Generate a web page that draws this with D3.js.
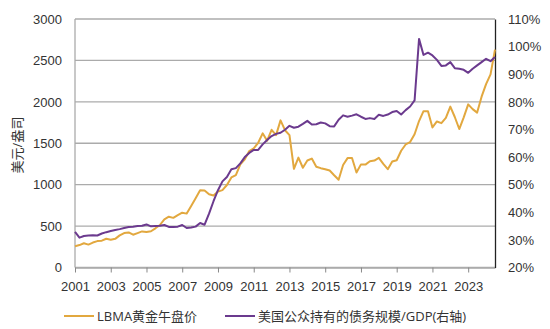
<!DOCTYPE html>
<html><head><meta charset="utf-8">
<script src="https://cdn.jsdelivr.net/npm/d3@7"></script>
<style>body{margin:0;background:#fff;}svg{display:block;font-family:"Open Sans","Noto Sans CJK SC",sans-serif;}</style>
</head><body><svg id="c" width="550" height="329"></svg>
<script>
const startYear = 2001;
const quarterCount = 95; // 2001Q1 .. 2024Q3
const goldPrice = [257.7,270.6,293.1,276.5, 301.4,318.5,323.7,347.2, 334.9,346.0,388.0,416.3,
 423.7,395.8,415.7,435.6, 427.5,437.1,473.3,513.0, 582.0,613.5,599.3,632.0, 661.8,650.5,743.0,836.5,
 933.5,930.3,884.5,869.8, 916.5,934.5,995.8,1087.5, 1115.5,1244.0,1307.0,1405.5, 1439.0,1505.5,1620.0,1531.0,
 1662.5,1598.5,1776.0,1657.5, 1598.3,1192.0,1326.5,1204.5, 1291.8,1315.0,1216.5,1199.3, 1187.0,1171.0,1114.0,1060.0,
 1237.0,1320.8,1322.5,1145.9, 1244.9,1242.3,1283.1,1291.0, 1323.9,1250.5,1187.3,1279.0, 1295.4,1409.0,1485.3,1514.8,
 1608.9,1768.1,1886.9,1887.6, 1691.1,1763.2,1742.8,1805.9, 1942.2,1817.0,1671.8,1812.4, 1969.0,1912.3,1870.1,2062.4,
 2214.4,2330.9,2630.0];
const debtToGdp = [32.9,30.8,31.4,31.6, 31.7,31.6,32.3,32.8, 33.2,33.6,33.9,34.3, 34.7,34.8,35.0,35.1,
 35.6,34.9,35.0,35.1, 35.4,34.7,34.7,34.8, 35.4,34.3,34.5,34.8, 36.1,35.5,39.5,44.0,
 48.0,51.2,52.8,55.6, 56.0,57.7,60.0,61.5, 62.6,62.6,64.6,66.2, 67.6,68.4,68.8,69.9,
 71.3,70.6,71.0,72.0, 73.1,71.8,71.9,72.5, 72.2,71.2,71.1,73.5, 75.1,74.6,75.0,75.5,
 74.6,73.8,74.1,73.8, 75.3,74.9,75.4,76.3, 76.7,75.4,77.0,78.3, 80.5,102.8,97.0,97.8,
 96.8,95.2,93.0,93.2, 94.4,92.2,92.0,91.6, 90.5,92.0,93.2,94.4, 95.6,94.7,96.2];
const leftTicks = [0,500,1000,1500,2000,2500,3000];
const rightTicks = [20,30,40,50,60,70,80,90,100,110];
const yearLabels = ["2001","2003","2005","2007","2009","2011","2013","2015","2017","2019","2021","2023"];
const seriesNames = ["LBMA黄金午盘价","美国公众持有的债务规模/GDP(右轴)"];
const yTitle = "美元/盎司";

const quarters = d3.range(quarterCount).map(i => (startYear + Math.floor(i/4)) + "Q" + (i%4+1));
const colors = ["#E2A83F","#6B3A8E"];
const L=75, R=495, T=19, B=267.5;
const svg = d3.select("#c");
const x = d3.scalePoint().domain(quarters).range([L,R]);
const yL = d3.scaleLinear().domain([0,3000]).range([B,T]);
const yR = d3.scaleLinear().domain([20,110]).range([B,T]);

svg.append("g").selectAll("line").data(leftTicks).join("line")
  .attr("x1",L).attr("x2",R).attr("y1",d=>yL(d)).attr("y2",d=>yL(d))
  .attr("stroke","#ababab").attr("stroke-width",1.3);
svg.append("line").attr("x1",L).attr("x2",L).attr("y1",T).attr("y2",B).attr("stroke","#ababab").attr("stroke-width",1.3);
const xAxis = d3.axisBottom(x).tickValues(yearLabels.map(y=>y+"Q1")).tickSize(5).tickSizeOuter(0).tickFormat(d=>d.slice(0,4)).tickPadding(9);
const gx = svg.append("g").attr("transform",`translate(0,${B})`).call(xAxis);
gx.select(".domain").attr("stroke","#ababab").attr("stroke-width",1.3);
gx.selectAll(".tick line").attr("stroke","#888");
gx.selectAll("text").attr("font-size",13).attr("fill","#333");
const gl = svg.append("g").attr("transform",`translate(${L},0)`).call(d3.axisLeft(yL).tickValues(leftTicks).tickSize(0).tickPadding(13).tickFormat(d3.format("d")));
gl.select(".domain").remove();
gl.selectAll("text").attr("font-size",13).attr("fill","#333");
const gr = svg.append("g").attr("transform",`translate(${R},0)`).call(d3.axisRight(yR).tickValues(rightTicks).tickSize(0).tickPadding(13).tickFormat(d=>d+"%"));
gr.select(".domain").attr("stroke","#222").attr("stroke-width",1.3);
gr.selectAll("text").attr("font-size",13).attr("fill","#333");

svg.append("path").datum(goldPrice).attr("fill","none").attr("stroke",colors[0]).attr("stroke-width",2)
  .attr("stroke-linejoin","round")
  .attr("d", d3.line().x((d,i)=>x(quarters[i])).y(d=>yL(d)));
svg.append("path").datum(debtToGdp).attr("fill","none").attr("stroke",colors[1]).attr("stroke-width",2)
  .attr("stroke-linejoin","round")
  .attr("d", d3.line().x((d,i)=>x(quarters[i])).y(d=>yR(d)));

svg.append("text").attr("transform","translate(22,145) rotate(-90)").attr("text-anchor","middle")
  .attr("font-size",13).attr("fill","#333").text(yTitle);

const legX = [64,225];
seriesNames.forEach((n,i)=>{
  svg.append("line").attr("x1",legX[i]).attr("x2",legX[i]+30).attr("y1",316).attr("y2",316)
    .attr("stroke",colors[i]).attr("stroke-width",2);
  svg.append("text").attr("x",legX[i]+33).attr("y",320.5).attr("font-size",13).attr("fill","#333").text(n);
});
</script></body></html>
